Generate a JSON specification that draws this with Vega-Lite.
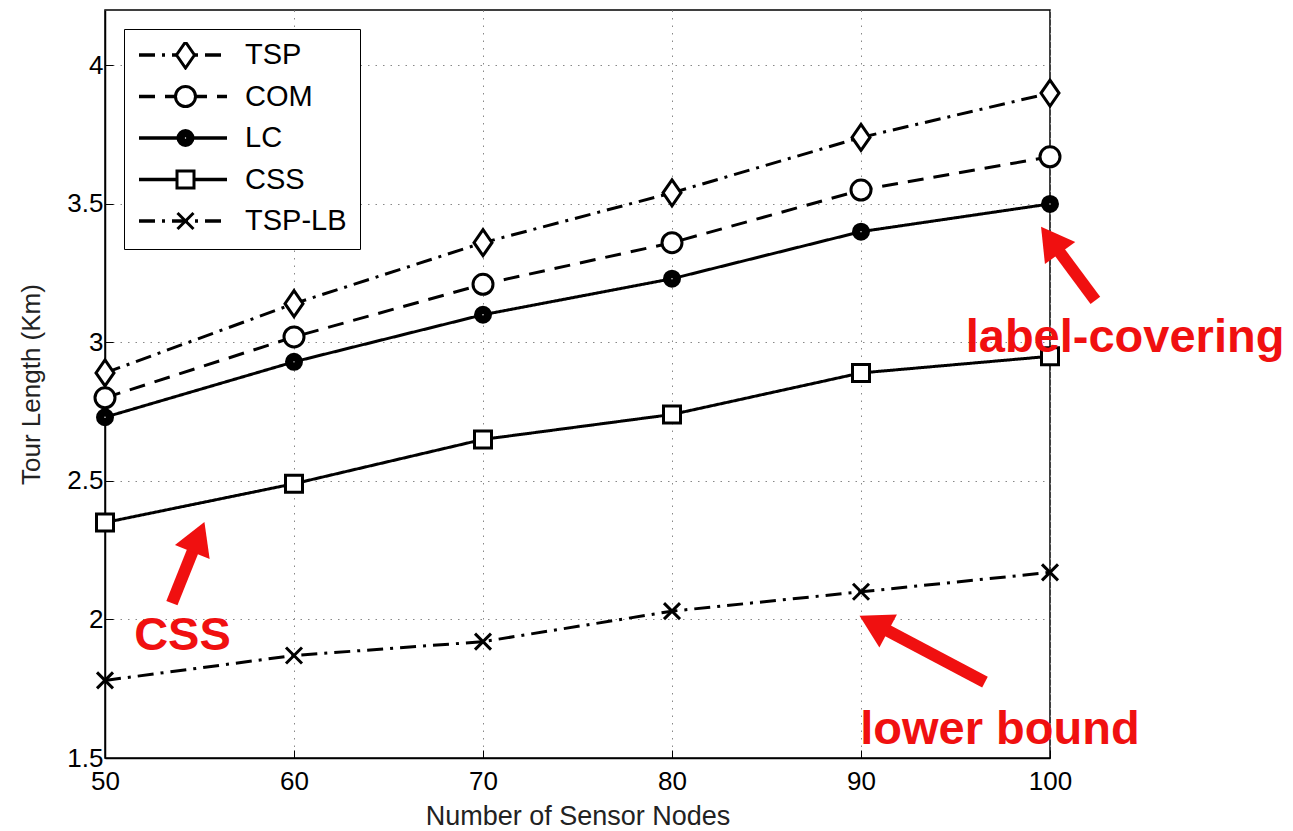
{
  "$schema": "https://vega.github.io/schema/vega-lite/v6.json",
  "width": 945,
  "height": 748,
  "autosize": "none",
  "padding": {"left": 105, "top": 10, "right": 243, "bottom": 73},
  "background": "white",
  "config": {
    "font": "Liberation Sans",
    "view": {"stroke": "black", "strokeWidth": 1.5},
    "axis": {
      "labelFont": "Liberation Sans",
      "labelFontSize": 26,
      "labelColor": "black",
      "titleFont": "Liberation Sans",
      "titleFontWeight": "normal",
      "titleColor": "#222",
      "domainColor": "black",
      "domainWidth": 1.5,
      "tickColor": "black",
      "tickSize": -8,
      "tickWidth": 1,
      "gridColor": "#888",
      "gridDash": [1.5, 6],
      "gridWidth": 1,
      "gridOpacity": 1,
      "labelFlush": false,
      "labelOverlap": false
    }
  },
  "datasets": {
    "series": [
      {"series": "TSP", "nodes": 50, "length": 2.89},
      {"series": "TSP", "nodes": 60, "length": 3.14},
      {"series": "TSP", "nodes": 70, "length": 3.36},
      {"series": "TSP", "nodes": 80, "length": 3.54},
      {"series": "TSP", "nodes": 90, "length": 3.74},
      {"series": "TSP", "nodes": 100, "length": 3.90},
      {"series": "COM", "nodes": 50, "length": 2.80},
      {"series": "COM", "nodes": 60, "length": 3.02},
      {"series": "COM", "nodes": 70, "length": 3.21},
      {"series": "COM", "nodes": 80, "length": 3.36},
      {"series": "COM", "nodes": 90, "length": 3.55},
      {"series": "COM", "nodes": 100, "length": 3.67},
      {"series": "LC", "nodes": 50, "length": 2.73},
      {"series": "LC", "nodes": 60, "length": 2.93},
      {"series": "LC", "nodes": 70, "length": 3.10},
      {"series": "LC", "nodes": 80, "length": 3.23},
      {"series": "LC", "nodes": 90, "length": 3.40},
      {"series": "LC", "nodes": 100, "length": 3.50},
      {"series": "CSS", "nodes": 50, "length": 2.35},
      {"series": "CSS", "nodes": 60, "length": 2.49},
      {"series": "CSS", "nodes": 70, "length": 2.65},
      {"series": "CSS", "nodes": 80, "length": 2.74},
      {"series": "CSS", "nodes": 90, "length": 2.89},
      {"series": "CSS", "nodes": 100, "length": 2.95},
      {"series": "TSP-LB", "nodes": 50, "length": 1.78},
      {"series": "TSP-LB", "nodes": 60, "length": 1.87},
      {"series": "TSP-LB", "nodes": 70, "length": 1.92},
      {"series": "TSP-LB", "nodes": 80, "length": 2.03},
      {"series": "TSP-LB", "nodes": 90, "length": 2.10},
      {"series": "TSP-LB", "nodes": 100, "length": 2.17}
    ],
    "notes": [
      {"label": "label-covering", "nodes": 103.97, "length": 3.015, "nodes2": 102.4, "length2": 3.152, "nodes3": 100.03, "length3": 3.37},
      {"label": "CSS", "nodes": 54.1, "length": 1.94, "nodes2": 53.54, "length2": 2.059, "nodes3": 54.94, "length3": 2.298},
      {"label": "lower bound", "nodes": 97.35, "length": 1.60, "nodes2": 96.56, "length2": 1.774, "nodes3": 90.68, "length3": 1.986}
    ]
  },
  "layer": [
    {
      "data": {"name": "series"},
      "mark": {"type": "line", "color": "black", "strokeWidth": 3},
      "encoding": {
        "x": {"field": "nodes", "type": "quantitative", "scale": {"domain": [50, 100], "nice": false, "zero": false},
              "axis": {"values": [50, 60, 70, 80, 90, 100], "title": "Number of Sensor Nodes", "titleFontSize": 27, "labelPadding": 18, "titlePadding": 9}},
        "y": {"field": "length", "type": "quantitative", "scale": {"domain": [1.5, 4.2], "nice": false, "zero": false},
              "axis": {"values": [1.5, 2, 2.5, 3, 3.5, 4], "format": "~g", "title": "Tour Length (Km)", "titleFontSize": 26, "labelPadding": 10, "titlePadding": 22}},
        "detail": {"field": "series"},
        "strokeDash": {
          "field": "series", "type": "nominal",
          "scale": {"domain": ["TSP", "COM", "LC", "CSS", "TSP-LB", "none"], "range": [[16, 7, 3, 7], [16, 10], [1, 0], [1, 0], [16, 7, 3, 7], [1, 0]]},
          "legend": {
            "title": null, "orient": "top-left", "offset": 19,
            "values": ["TSP", "COM", "LC", "CSS", "TSP-LB"],
            "symbolType": "stroke", "symbolSize": 7744, "symbolStrokeWidth": 3.5, "symbolStrokeColor": "black",
            "labelFont": "Liberation Sans", "labelFontSize": 29, "labelColor": "black", "labelOffset": 16,
            "padding": 13, "rowPadding": 12.5, "clipHeight": 26,
            "strokeColor": "black", "fillColor": "white", "cornerRadius": 0
          }
        }
      }
    },
    {
      "data": {"name": "series"},
      "mark": {"type": "point", "filled": false, "color": "black", "stroke": "black", "fill": "white", "strokeWidth": 3, "opacity": 1, "fillOpacity": 1, "size": 400},
      "encoding": {
        "x": {"field": "nodes", "type": "quantitative"},
        "y": {"field": "length", "type": "quantitative"},
        "shape": {
          "field": "series", "type": "nominal",
          "scale": {"domain": ["TSP", "COM", "LC", "CSS", "TSP-LB"], "range": [
            "M0,-1.3L0.9,0L0,1.3L-0.9,0Z",
            "circle",
            "M0.75,0A0.75,0.75 0 1,1 -0.75,0A0.75,0.75 0 1,1 0.75,0M0.5,0A0.5,0.5 0 1,1 -0.5,0A0.5,0.5 0 1,1 0.5,0M0.25,0A0.25,0.25 0 1,1 -0.25,0A0.25,0.25 0 1,1 0.25,0M0.08,0A0.08,0.08 0 1,1 -0.08,0A0.08,0.08 0 1,1 0.08,0",
            "M-0.85,-0.85H0.85V0.85H-0.85Z",
            "M-0.8,-0.8L0.8,0.8M0.8,-0.8L-0.8,0.8"
          ]},
          "legend": {
            "title": null, "orient": "none", "legendX": 19, "legendY": 19,
            "symbolSize": 400, "symbolStrokeWidth": 3, "symbolOffset": 34,
            "labelFont": "Liberation Sans", "labelFontSize": 29, "labelOpacity": 0, "labelOffset": 40,
            "padding": 13, "rowPadding": 12.5, "clipHeight": 26
          }
        }
      }
    },
    {
      "data": {"name": "notes"},
      "mark": {"type": "rule", "color": "#f01010", "strokeWidth": 12, "strokeCap": "butt"},
      "encoding": {
        "x": {"field": "nodes2", "type": "quantitative"},
        "y": {"field": "length2", "type": "quantitative"},
        "x2": {"field": "nodes3"},
        "y2": {"field": "length3"}
      }
    },
    {
      "data": {"name": "notes"},
      "mark": {"type": "point", "shape": "triangle-up", "filled": true, "color": "#f01010", "opacity": 1, "size": 1400},
      "encoding": {
        "x": {"field": "nodes3", "type": "quantitative"},
        "y": {"field": "length3", "type": "quantitative"},
        "angle": {"field": "label", "type": "nominal", "scale": {"type": "ordinal", "domain": ["label-covering", "CSS", "lower bound"], "range": [324, 22, 298]}, "legend": null}
      }
    },
    {
      "data": {"name": "notes"},
      "mark": {"type": "text", "color": "#f01010", "font": "Liberation Sans", "fontWeight": "bold", "fontSize": 47, "align": "center", "baseline": "middle"},
      "encoding": {
        "x": {"field": "nodes", "type": "quantitative"},
        "y": {"field": "length", "type": "quantitative"},
        "text": {"field": "label"}
      }
    }
  ]
}
